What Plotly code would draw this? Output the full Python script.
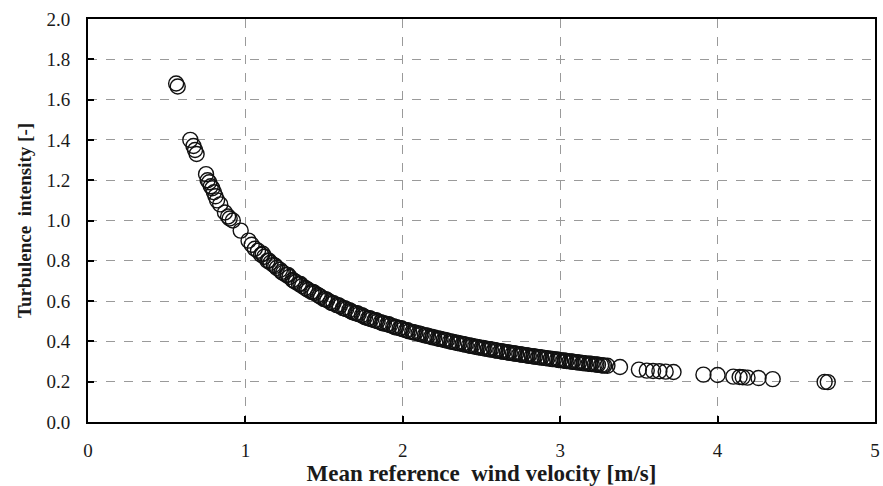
import plotly.graph_objects as go

# Mean reference wind velocity [m/s]
velocity = [
    0.56, 0.57, 0.65, 0.67, 0.68, 0.69,
    0.75, 0.76, 0.77, 0.78, 0.79, 0.80, 0.81, 0.82, 0.84, 0.87, 0.89, 0.90, 0.92,
    0.97, 1.02, 1.04, 1.06, 1.08, 1.10, 1.12, 1.14, 1.16, 1.18, 1.20, 1.22, 1.24,
    1.26, 1.28, 1.30, 1.32, 1.34, 1.36, 1.38, 1.40, 1.42, 1.44, 1.46, 1.48, 1.50,
    1.52, 1.54, 1.56, 1.58, 1.60, 1.62, 1.64, 1.66, 1.68, 1.70, 1.72, 1.74, 1.76,
    1.78, 1.80, 1.82, 1.84, 1.86, 1.88, 1.90, 1.92, 1.94, 1.96, 1.98, 2.00, 2.02,
    2.04, 2.06, 2.08, 2.10, 2.12, 2.14, 2.16, 2.18, 2.20, 2.22, 2.24, 2.26, 2.28,
    2.30, 2.32, 2.34, 2.36, 2.38, 2.40, 2.42, 2.44, 2.46, 2.48, 2.50, 2.52, 2.54,
    2.56, 2.58, 2.60, 2.62, 2.64, 2.66, 2.68, 2.70, 2.72, 2.74, 2.76, 2.78, 2.80,
    2.82, 2.84, 2.86, 2.88, 2.90, 2.92, 2.94, 2.96, 2.98, 3.00, 3.02, 3.04, 3.06,
    3.08, 3.10, 3.12, 3.14, 3.16, 3.18, 3.20, 3.22, 3.24, 3.26, 3.28, 3.30,
    1.11, 1.15, 1.19, 1.23, 1.27, 1.31, 1.35, 1.39, 1.43, 1.47, 1.51, 1.55, 1.59,
    1.63, 1.67, 1.71, 1.75, 1.79, 1.83, 1.87, 1.91, 1.95, 1.99, 2.03, 2.07, 2.11,
    2.15, 2.19, 2.23, 2.27, 2.31, 2.35, 2.39, 2.43, 2.47, 2.51, 2.55, 2.59, 2.63,
    2.67, 2.71, 2.75, 2.79, 2.83, 2.87, 2.91, 2.95, 2.99, 3.03, 3.07, 3.11, 3.15,
    3.19, 3.23, 3.27,
    3.38, 3.50, 3.55, 3.59, 3.63, 3.67, 3.72, 3.91, 4.00, 4.10, 4.14, 4.16, 4.19,
    4.26, 4.35, 4.68, 4.70,
]

# Turbulence intensity [-]
intensity = [
    1.68, 1.665, 1.40, 1.37, 1.35, 1.33,
    1.23, 1.20, 1.19, 1.17, 1.16, 1.14, 1.12, 1.10, 1.08, 1.04, 1.02, 1.01, 1.00,
    0.95, 0.90, 0.88, 0.86, 0.85, 0.83, 0.82, 0.80, 0.79, 0.78, 0.765, 0.755, 0.74,
    0.73, 0.72, 0.705, 0.695, 0.685, 0.675, 0.665, 0.655, 0.645, 0.64, 0.63, 0.62, 0.61,
    0.605, 0.595, 0.59, 0.58, 0.575, 0.565, 0.56, 0.555, 0.545, 0.54, 0.535, 0.53, 0.52,
    0.515, 0.51, 0.505, 0.50, 0.495, 0.49, 0.485, 0.48, 0.475, 0.47, 0.465, 0.46, 0.455,
    0.45, 0.447, 0.443, 0.44, 0.435, 0.43, 0.427, 0.423, 0.42, 0.415, 0.412, 0.408, 0.405,
    0.40, 0.397, 0.393, 0.39, 0.387, 0.384, 0.38, 0.377, 0.374, 0.371, 0.368, 0.365, 0.362,
    0.36, 0.357, 0.354, 0.351, 0.349, 0.346, 0.344, 0.341, 0.339, 0.336, 0.334, 0.332, 0.329,
    0.327, 0.325, 0.322, 0.32, 0.318, 0.316, 0.314, 0.312, 0.31, 0.307, 0.305, 0.303, 0.301,
    0.299, 0.297, 0.295, 0.293, 0.291, 0.289, 0.288, 0.286, 0.284, 0.282, 0.28, 0.279,
    0.835, 0.80, 0.775, 0.745, 0.73, 0.70, 0.685, 0.66, 0.645, 0.625, 0.61, 0.59, 0.58,
    0.565, 0.55, 0.54, 0.525, 0.515, 0.505, 0.49, 0.485, 0.47, 0.465, 0.455, 0.445, 0.437,
    0.43, 0.42, 0.413, 0.406, 0.399, 0.392, 0.385, 0.379, 0.372, 0.367, 0.361, 0.355, 0.35,
    0.345, 0.34, 0.335, 0.33, 0.325, 0.321, 0.317, 0.312, 0.308, 0.304, 0.30, 0.296, 0.292,
    0.289, 0.285, 0.281,
    0.273, 0.26, 0.255, 0.253, 0.252, 0.25, 0.248, 0.235, 0.233, 0.225, 0.223, 0.222, 0.22,
    0.218, 0.213, 0.199, 0.198,
]

x_ticks = [0, 1, 2, 3, 4, 5]
y_ticks = [0.0, 0.2, 0.4, 0.6, 0.8, 1.0, 1.2, 1.4, 1.6, 1.8, 2.0]

font_family = "Liberation Serif, Times New Roman, serif"
text_color = "#1a1a1a"

fig = go.Figure(
    go.Scatter(
        x=velocity,
        y=intensity,
        mode="markers",
        marker=dict(
            symbol="circle-open",
            size=15,
            color="#111111",
            line=dict(width=1.4, color="#111111"),
        ),
        showlegend=False,
    )
)

axis_common = dict(
    showline=True,
    linecolor="black",
    linewidth=2,
    mirror=True,
    ticks="inside",
    ticklen=6,
    tickwidth=1.5,
    tickcolor="black",
    showgrid=True,
    gridcolor="#9a9a9a",
    griddash="dash",
    gridwidth=1,
    zeroline=False,
    tickfont=dict(family=font_family, size=19, color=text_color),
)

fig.update_xaxes(
    range=[0, 5],
    tickvals=x_ticks,
    ticktext=[str(v) for v in x_ticks],
    ticklabelstandoff=10,
    title=dict(
        text="<b>Mean reference  wind velocity [m/s]</b>",
        font=dict(family=font_family, size=23, color=text_color),
        standoff=2,
    ),
    **axis_common,
)
fig.update_yaxes(
    range=[0, 2.0],
    tickvals=y_ticks,
    ticktext=[f"{v:.1f}" for v in y_ticks],
    ticklabelstandoff=12,
    title=dict(
        text="<b>Turbulence  intensity [-]</b>",
        font=dict(family=font_family, size=19, color=text_color),
        standoff=10,
    ),
    **axis_common,
)

fig.update_layout(
    width=883,
    height=486,
    margin=dict(l=88, r=3, t=19, b=64),
    paper_bgcolor="white",
    plot_bgcolor="white",
)

fig.write_html("out.html")
